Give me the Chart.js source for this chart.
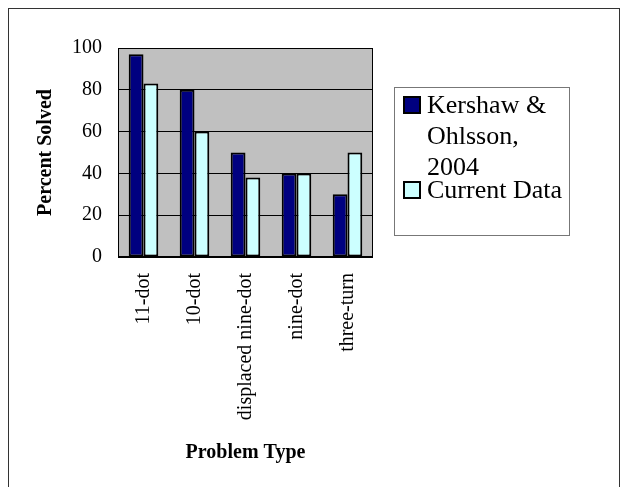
<!DOCTYPE html>
<html>
<head>
<meta charset="utf-8">
<script src="https://cdn.jsdelivr.net/npm/chart.js@4.4.1/dist/chart.umd.min.js"></script>
<style>
  html, body { margin:0; padding:0; background:#fff; }
  #wrap { position:relative; width:629px; height:487px; overflow:hidden; }
  #frame { position:absolute; left:8px; top:8px; width:612px; height:520px; border:1px solid #333; box-sizing:border-box; }
  canvas { position:absolute; left:0; top:0; }
  #legend { position:absolute; left:394px; top:87px; width:176px; height:149px; border:1px solid #777; box-sizing:border-box; }
  .item { position:absolute; left:0; font-family:'Liberation Serif','Times New Roman',serif; font-size:26px; line-height:31px; color:#000; }
  .sw { position:absolute; left:8px; width:18px; height:18px; border:2px solid #000; box-sizing:border-box; }
  .txt { position:absolute; left:32px; white-space:nowrap; }
</style>
</head>
<body>
<div id="wrap">
  <div id="frame"></div>
  <canvas id="c" width="629" height="487"></canvas>
  <div id="legend"></div>
</div>
<script>
// chart data
const categories = ['11-dot', '10-dot', 'displaced nine-dot', 'nine-dot', 'three-turn'];
const kershaw = [97, 80, 50, 40, 30];
const current = [83, 60, 38, 40, 50];
const seriesNames = [['Kershaw &', 'Ohlsson,', '2004'], ['Current Data']];
const seriesColors = ['#000080', '#ccffff'];
const yTicks = [0, 20, 40, 60, 80, 100];

const SERIF = "'Liberation Serif','Times New Roman',serif";

// gray plot background + black frame round the plot area
const plotFrame = {
  id: 'plotFrame',
  beforeDraw(chart){
    const {ctx, chartArea:a} = chart;
    ctx.save();
    ctx.fillStyle = '#c0c0c0';
    ctx.fillRect(a.left, a.top, a.right - a.left, a.bottom - a.top);
    ctx.restore();
  },
  afterDatasetsDraw(chart){
    const {ctx, chartArea:a} = chart;
    ctx.save();
    ctx.strokeStyle = '#000';
    ctx.lineWidth = 1;
    ctx.strokeRect(a.left + 0.5, a.top + 0.5, a.right - a.left - 1, a.bottom - a.top - 1);
    ctx.restore();
  }
};

new Chart(document.getElementById('c'), {
  type: 'bar',
  data: {
    labels: categories,
    datasets: [
      { label: seriesNames[0].join(' '), data: kershaw, backgroundColor: seriesColors[0], borderColor: '#000', borderWidth: 2, borderSkipped: false },
      { label: seriesNames[1].join(' '), data: current, backgroundColor: seriesColors[1], borderColor: '#000', borderWidth: 2, borderSkipped: false }
    ]
  },
  options: {
    responsive: false,
    animation: false,
    layout: { padding: { left: 0, right: 256, top: 48, bottom: 0 } },
    datasets: { bar: { categoryPercentage: 0.58, barPercentage: 1.0 } },
    plugins: { legend: { display: false }, tooltip: { enabled: false } },
    scales: {
      x: {
        grid: { display: false, drawTicks: false },
        border: { display: false },
        ticks: { autoSkip: false, minRotation: 90, maxRotation: 90, padding: 16, color: '#000', font: { family: SERIF, size: 20 } },
        title: { display: true, text: 'Problem Type', color: '#000', padding: { top: 0, bottom: 22 }, font: { family: SERIF, size: 20, weight: 'bold' } },
        afterFit(s){ s.height = 230; }
      },
      y: {
        min: 0, max: 100,
        afterBuildTicks(s){ s.ticks = yTicks.map(v => ({ value: v })); },
        grid: { color: '#000', lineWidth: 1, drawTicks: false },
        border: { display: false },
        ticks: { padding: 16, color: '#000', font: { family: SERIF, size: 20 } },
        title: { display: true, text: 'Percent Solved', color: '#000', padding: { top: 34, bottom: 0 }, font: { family: SERIF, size: 20, weight: 'bold' } },
        afterFit(s){ s.width = 118; }
      }
    }
  },
  plugins: [plotFrame]
});

// legend box built from the series names/colours
const legend = document.getElementById('legend');
const entryTops = [1, 86];
seriesNames.forEach((lines, i) => {
  const item = document.createElement('div');
  item.className = 'item';
  item.style.top = entryTops[i] + 'px';
  const sw = document.createElement('div');
  sw.className = 'sw';
  sw.style.background = seriesColors[i];
  sw.style.top = '7px';
  const txt = document.createElement('div');
  txt.className = 'txt';
  txt.innerHTML = lines.join('<br>');
  item.appendChild(sw);
  item.appendChild(txt);
  legend.appendChild(item);
});
</script>
</body>
</html>
